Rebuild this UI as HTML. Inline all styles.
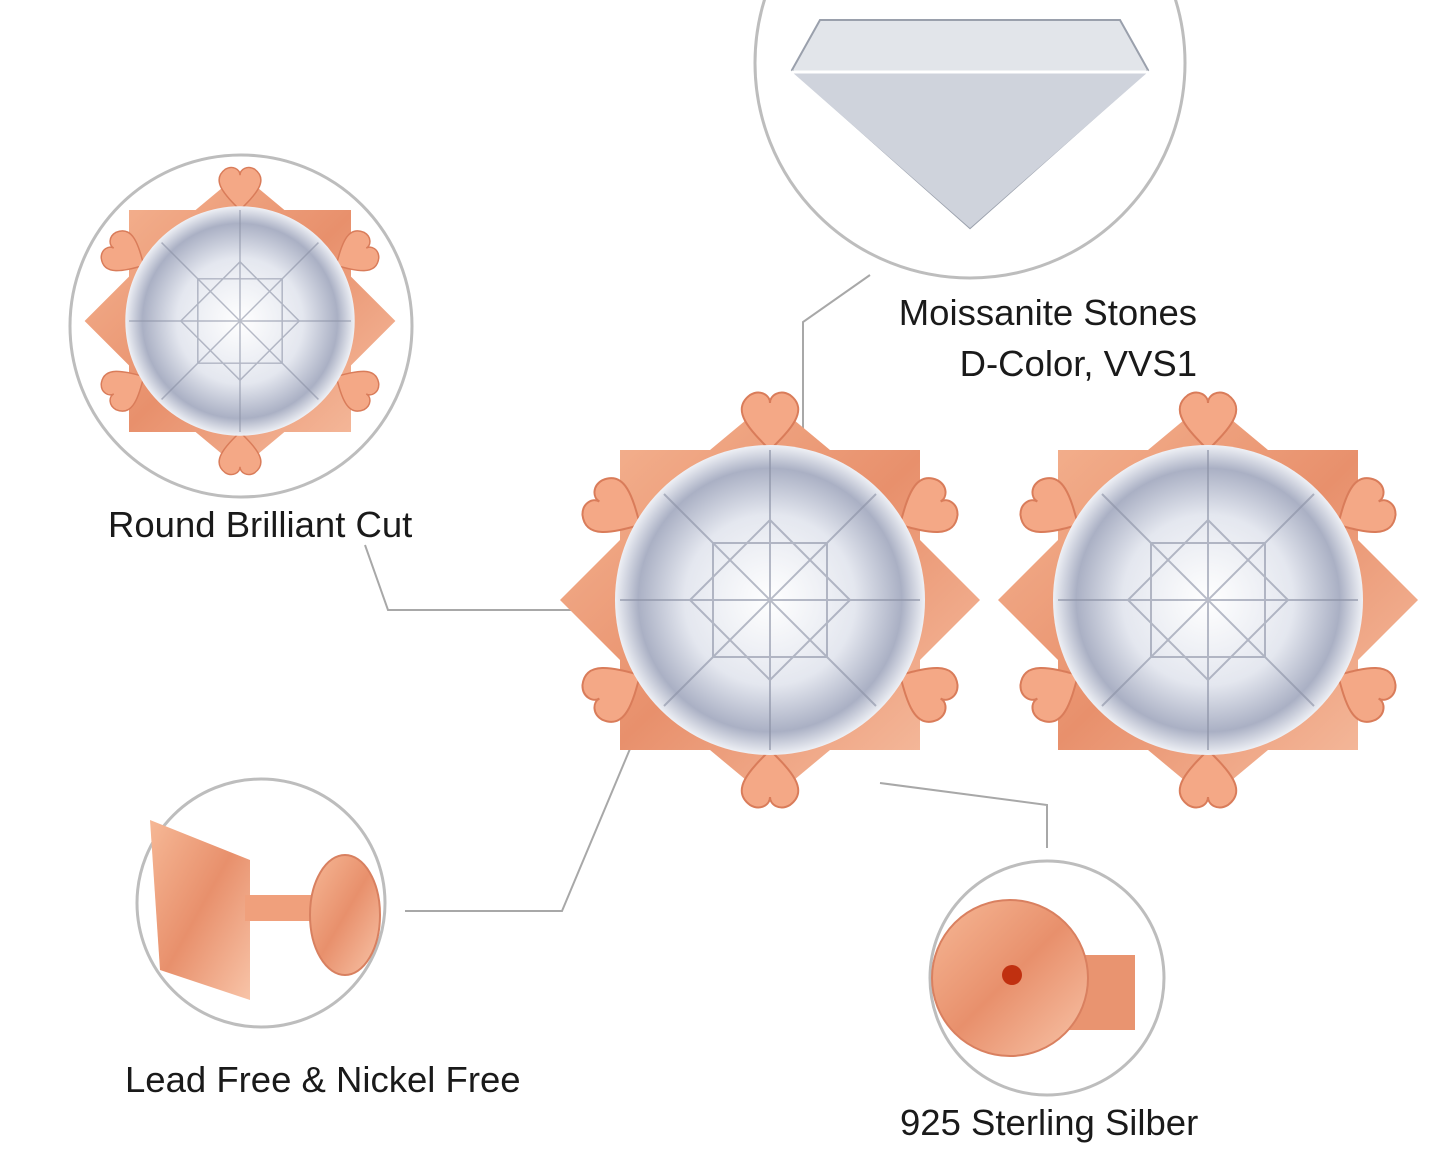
<!DOCTYPE html>
<html><head><meta charset="utf-8"><style>
html,body{margin:0;padding:0;background:#fff;}
svg{display:block}
text{font-family:"Liberation Sans",sans-serif;fill:#1a1a1a;font-size:36.5px}
</style></head><body>
<svg width="1445" height="1151" viewBox="0 0 1445 1151" xmlns="http://www.w3.org/2000/svg">
<defs>
<radialGradient id="stone" cx="50%" cy="50%" r="50%">
<stop offset="0" stop-color="#ffffff"/><stop offset="0.55" stop-color="#e4e7ef"/><stop offset="0.85" stop-color="#aab0c4"/><stop offset="1" stop-color="#eef0f5"/></radialGradient>
<linearGradient id="gold" x1="0" y1="0" x2="1" y2="1">
<stop offset="0" stop-color="#f6b896"/><stop offset="0.5" stop-color="#e8906c"/><stop offset="1" stop-color="#f8c4a8"/></linearGradient>
<g id="ear">
<polygon fill="url(#gold)" points="0,-200 60,-150 150,-150 150,-60 210,0 150,60 150,150 60,150 0,200 -60,150 -150,150 -150,60 -210,0 -150,-60 -150,-150 -60,-150"/>
<g fill="#f4a886" stroke="#d97c5a" stroke-width="2">
<path d="M0,-150 c-20,-20 -40,-40 -20,-55 c10,-6 20,0 20,8 c0,-8 10,-14 20,-8 c20,15 0,35 -20,55z"/>
<path d="M0,150 c-20,20 -40,40 -20,55 c10,6 20,0 20,-8 c0,8 10,14 20,8 c20,-15 0,-35 -20,-55z"/>
<path transform="rotate(60)" d="M0,-150 c-20,-20 -40,-40 -20,-55 c10,-6 20,0 20,8 c0,-8 10,-14 20,-8 c20,15 0,35 -20,55z"/>
<path transform="rotate(120)" d="M0,-150 c-20,-20 -40,-40 -20,-55 c10,-6 20,0 20,8 c0,-8 10,-14 20,-8 c20,15 0,35 -20,55z"/>
<path transform="rotate(-60)" d="M0,-150 c-20,-20 -40,-40 -20,-55 c10,-6 20,0 20,8 c0,-8 10,-14 20,-8 c20,15 0,35 -20,55z"/>
<path transform="rotate(-120)" d="M0,-150 c-20,-20 -40,-40 -20,-55 c10,-6 20,0 20,8 c0,-8 10,-14 20,-8 c20,15 0,35 -20,55z"/>
</g>
<circle r="155" fill="url(#stone)"/>
<g stroke="#8a90a4" stroke-width="2" opacity="0.6">
<line x1="-150" y1="0" x2="150" y2="0"/><line x1="0" y1="-150" x2="0" y2="150"/>
<line x1="-106" y1="-106" x2="106" y2="106"/><line x1="-106" y1="106" x2="106" y2="-106"/>
<polygon fill="none" points="0,-80 80,0 0,80 -80,0"/>
<polygon fill="none" points="-57,-57 57,-57 57,57 -57,57"/>
</g>
</g>
</defs>
<g fill="none" stroke="#bdbdbd" stroke-width="3">
<circle cx="970" cy="63" r="215"/>
<circle cx="241" cy="326" r="171"/>
<circle cx="261" cy="903" r="124"/>
<circle cx="1047" cy="978" r="117"/>
</g>
<g fill="none" stroke="#a8a8a8" stroke-width="2">
<polyline points="870,275 803,322 803,490"/>
<polyline points="365,545 388,610 585,610"/>
<polyline points="405,911 562,911 640,725"/>
<polyline points="880,783 1047,805 1047,848"/>
</g>
<polygon points="792,70 820,20 1120,20 1148,70 970,228" fill="#e2e5ea" stroke="#9aa0ac" stroke-width="2"/>
<polygon points="792,72 1148,72 970,228" fill="#cfd3dc"/>
<line x1="792" y1="72" x2="1148" y2="72" stroke="#fff" stroke-width="3"/>
<use href="#ear" transform="translate(770,600)"/>
<use href="#ear" transform="translate(1208,600)"/>
<use href="#ear" transform="translate(240,321) scale(0.74)"/>
<path d="M150,820 L250,860 L250,1000 L160,970 Z" fill="url(#gold)"/>
<rect x="245" y="895" width="70" height="26" fill="#f0a07c"/>
<ellipse cx="345" cy="915" rx="35" ry="60" fill="url(#gold)" stroke="#d88060" stroke-width="2"/>
<rect x="1040" y="955" width="95" height="75" fill="#e99470"/>
<circle cx="1010" cy="978" r="78" fill="url(#gold)" stroke="#d98060" stroke-width="2"/>
<circle cx="1012" cy="975" r="10" fill="#c03010"/>
<text x="1197" y="325" text-anchor="end">Moissanite Stones</text>
<text x="1197" y="376" text-anchor="end">D-Color, VVS1</text>
<text x="108" y="537">Round Brilliant Cut</text>
<text x="125" y="1092">Lead Free &amp; Nickel Free</text>
<text x="900" y="1135">925 Sterling Silber</text>
</svg>
</body></html>
